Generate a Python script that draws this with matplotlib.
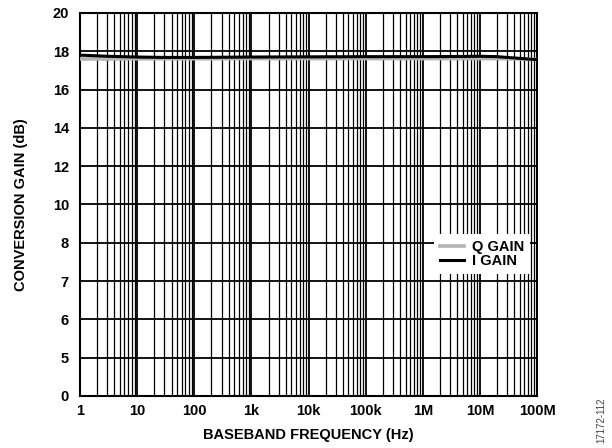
import numpy as np
import matplotlib.pyplot as plt
from matplotlib.ticker import FixedLocator, NullFormatter

# baseband frequency (Hz) and conversion gain (dB)
freq = [1, 3, 10, 30, 100, 1e3, 1e4, 1e5, 1e6, 5e6, 1e7, 2e7, 5e7, 1e8]
i_gain = [17.80, 17.74, 17.70, 17.68, 17.68, 17.70, 17.71, 17.72, 17.72,
          17.73, 17.74, 17.72, 17.63, 17.56]
q_gain = [17.60, 17.60, 17.61, 17.61, 17.61, 17.62, 17.62, 17.62, 17.62,
          17.62, 17.62, 17.62, 17.60, 17.57]

y_ticks = [0, 2, 4, 6, 8, 10, 12, 14, 16, 18, 20]
y_labels = ["0", "5", "6", "7", "8", "10", "12", "14", "16", "18", "20"]
x_ticks = [1, 10, 100, 1e3, 1e4, 1e5, 1e6, 1e7, 1e8]
x_labels = ["1", "10", "100", "1k", "10k", "100k", "1M", "10M", "100M"]

plt.rcParams["font.family"] = ["Liberation Sans", "DejaVu Sans"]
plt.rcParams["font.weight"] = "bold"
fs = 10.5

fig = plt.figure(figsize=(6.12, 4.48), dpi=100)
ax = fig.add_axes([0.1307, 0.1161, 0.7468, 0.8549])

ax.plot(freq, q_gain, color="#b4b4b4", lw=2.6, label="Q GAIN", zorder=3)
ax.plot(freq, i_gain, color="black", lw=2.2, label="I GAIN", zorder=4)

ax.set_xscale("log")
ax.set_xlim(1, 1e8)
ax.set_ylim(0, 20)

ax.xaxis.set_major_locator(FixedLocator(x_ticks))
ax.set_xticklabels(x_labels)
minor = [m * d for d in x_ticks[:-1] for m in range(2, 10)]
ax.xaxis.set_minor_locator(FixedLocator(minor))
ax.xaxis.set_minor_formatter(NullFormatter())
ax.set_yticks(y_ticks)
ax.set_yticklabels(y_labels)

ax.grid(True, which="major", color="black", lw=1.3)
ax.grid(True, which="minor", axis="x", color="black", lw=0.9)
ax.tick_params(which="both", length=0, labelsize=fs)
ax.tick_params(axis="y", pad=8)
ax.tick_params(axis="x", pad=6)
for s in ax.spines.values():
    s.set_linewidth(1.5)

ax.set_xlabel("BASEBAND FREQUENCY (Hz)", fontsize=fs, fontweight="bold", labelpad=7)
ax.set_ylabel("CONVERSION GAIN (dB)", fontsize=fs, fontweight="bold", labelpad=18)

leg = ax.legend(loc="lower right", bbox_to_anchor=(1.0, 0.3), frameon=True,
                fancybox=False, edgecolor="none", framealpha=1, fontsize=fs,
                handlelength=1.65, borderpad=0.4, labelspacing=0.0, handletextpad=0.55)

fig.text(0.983, 0.012, "17172-112", rotation=90, fontsize=7, fontweight="normal",
         color="#444444", ha="center", va="bottom")

fig.savefig("out.png", dpi=100)
plt.close(fig)
